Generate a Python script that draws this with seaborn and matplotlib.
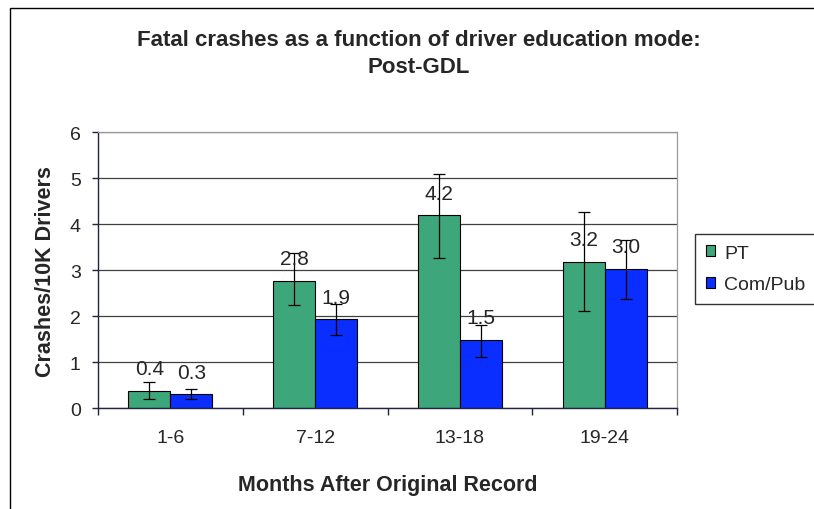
import matplotlib
matplotlib.use("Agg")
import matplotlib.pyplot as plt
import seaborn as sns
import pandas as pd
from matplotlib.patches import Rectangle

months = ["1-6", "7-12", "13-18", "19-24"]
modes = ["PT", "Com/Pub"]
pt_rate = [0.37, 2.77, 4.19, 3.18]
pub_rate = [0.30, 1.93, 1.49, 3.03]
pt_low = [0.20, 2.23, 3.26, 2.11]
pt_high = [0.56, 3.37, 5.08, 4.26]
pub_low = [0.20, 1.59, 1.12, 2.37]
pub_high = [0.41, 2.26, 1.81, 3.66]

colors = {"PT": "#3DA67A", "Com/Pub": "#0A2EFF"}

df = pd.DataFrame({
    "months": months * 2,
    "mode": ["PT"] * 4 + ["Com/Pub"] * 4,
    "rate": pt_rate + pub_rate,
    "low": pt_low + pub_low,
    "high": pt_high + pub_high,
})

sns.set_style("white")
plt.rcParams["font.family"] = ["Liberation Sans", "DejaVu Sans"]

fig = plt.figure(figsize=(8.14, 5.10), dpi=100)
ax = fig.add_axes([0.1204, 0.198, 0.7113, 0.541])

sns.barplot(data=df, x="months", y="rate", hue="mode", hue_order=modes,
            order=months, palette=colors, saturation=1, width=0.58, gap=0,
            errorbar=None, edgecolor="black", linewidth=0.8, legend=False, ax=ax)

# error bars + value labels
for container, mode in zip(ax.containers, modes):
    sub = df[df["mode"] == mode]
    for bar, (_, row) in zip(container.patches, sub.iterrows()):
        xc = bar.get_x() + bar.get_width() / 2
        ax.errorbar(xc, row["rate"],
                    yerr=[[row["rate"] - row["low"]], [row["high"] - row["rate"]]],
                    fmt="none", ecolor="black", elinewidth=0.9, capsize=4.5,
                    capthick=0.9, zorder=4)
        ax.annotate(f"{row['rate']:.1f}", (xc, row["rate"]), xytext=(0, 12),
                    textcoords="offset points", ha="center", va="baseline",
                    fontsize=15, zorder=5)

ax.set_ylim(0, 6)
ax.set_xlim(-0.5, 3.5)
ax.set_yticks(range(7))
ax.yaxis.grid(True, color="#404040", linewidth=0.9)
ax.set_axisbelow(True)
for s in ["top", "right"]:
    ax.spines[s].set_color("#999999")
    ax.spines[s].set_linewidth(0.9)
ax.spines["left"].set_color("#222244")
ax.spines["bottom"].set_color("#222244")
ax.spines["left"].set_linewidth(1.0)
ax.spines["bottom"].set_linewidth(1.0)

ax.set_xticks([-0.5, 0.5, 1.5, 2.5, 3.5], minor=True)
ax.tick_params(axis="x", which="major", length=0, pad=15, labelsize=14)
ax.tick_params(axis="x", which="minor", length=5, width=1, color="#222244",
               direction="out", bottom=True)
ax.tick_params(axis="y", length=4.5, width=1, color="#222244", direction="out",
               left=True, pad=8, labelsize=14)

ax.set_xlabel("Months After Original Record", fontsize=15.5, fontweight="bold",
              labelpad=20)
ax.set_ylabel("Crashes/10K Drivers", fontsize=15.5, fontweight="bold", labelpad=10)

fig.text(0.514, 1 - 46 / 510, "Fatal crashes as a function of driver education mode:",
         ha="center", va="baseline", fontsize=16, fontweight="bold")
fig.text(0.514, 1 - 73 / 510, "Post-GDL", ha="center", va="baseline",
         fontsize=16, fontweight="bold")

# legend
handles = [Rectangle((0, 0), 1, 1, facecolor=colors[m], edgecolor="black",
                     linewidth=0.8) for m in modes]
fig.legend(handles, modes, loc="upper left", bbox_to_anchor=(695 / 814, 1 - 235 / 510),
           frameon=True, fancybox=False, edgecolor="black", fontsize=14,
           handlelength=0.5, handleheight=0.5, handletextpad=0.45,
           labelspacing=0.75, borderpad=0.55, borderaxespad=0)

# outer chart frame
fig.add_artist(Rectangle((10 / 814, -0.05), 1.1, 1 - 9 / 510 + 0.05,
                         transform=fig.transFigure, fill=False,
                         edgecolor="black", linewidth=1.0))

fig.savefig("out.png", dpi=100)
